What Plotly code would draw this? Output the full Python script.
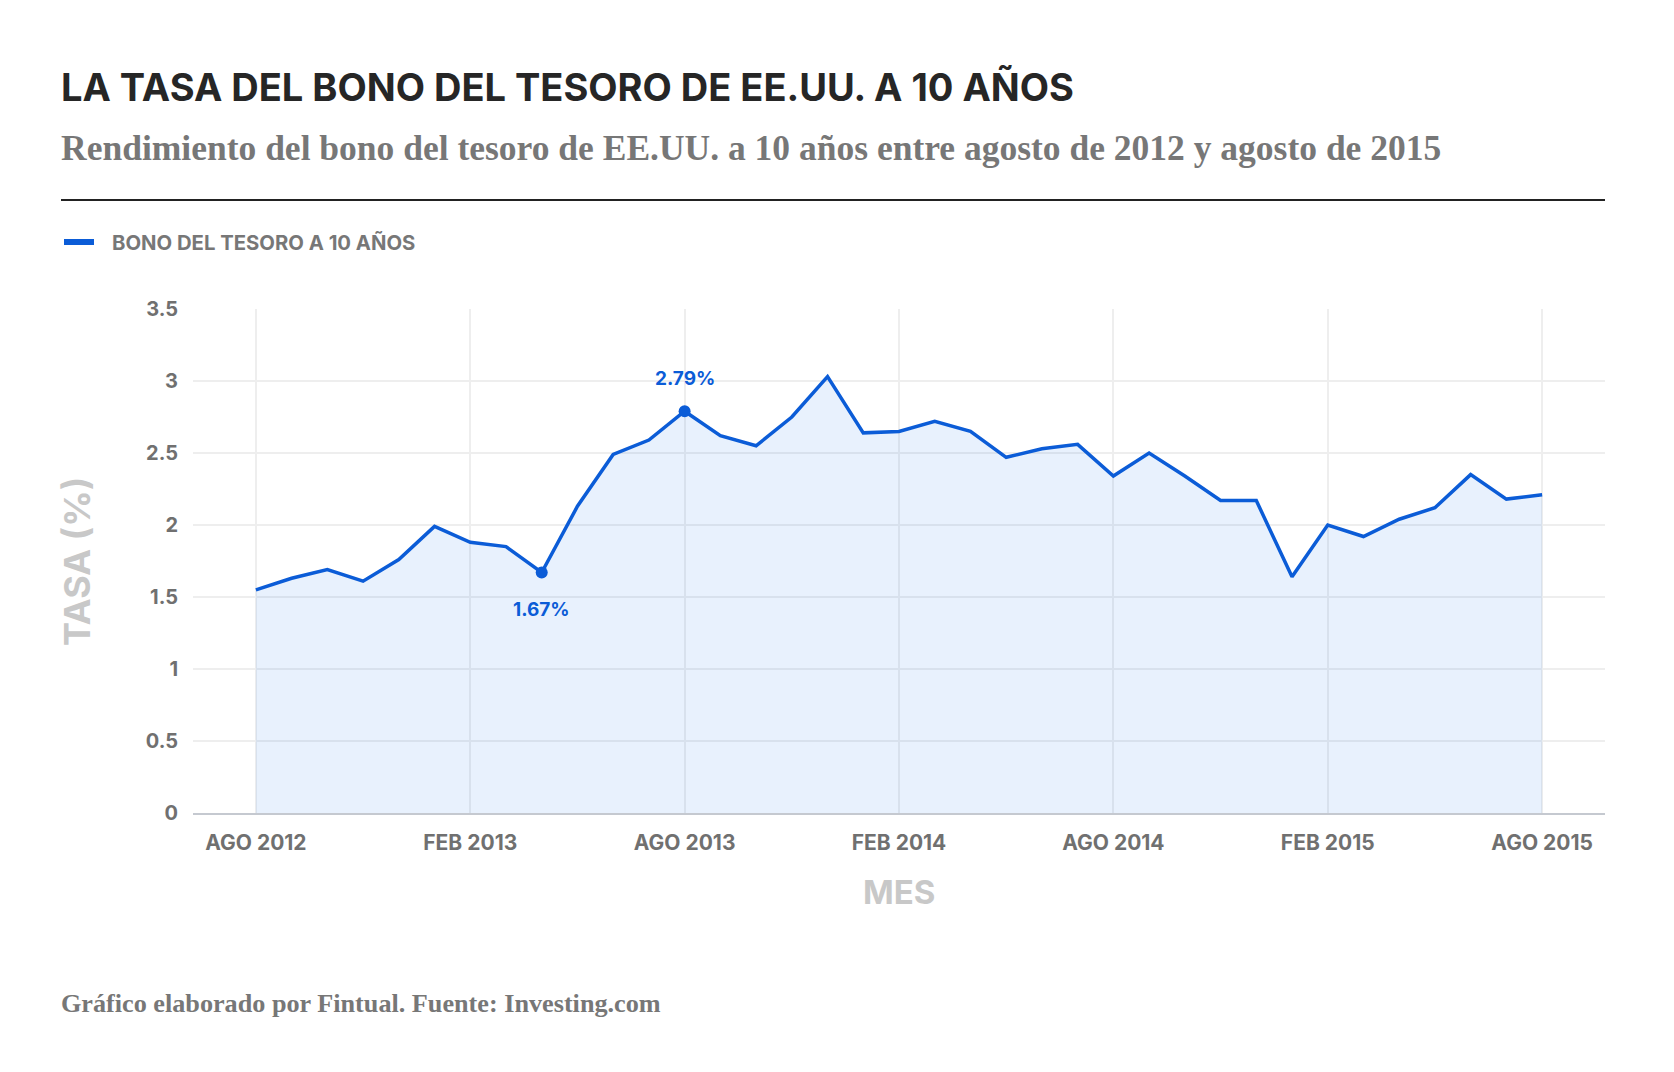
import plotly.graph_objects as go

# Datos: rendimiento mensual del bono del tesoro de EE.UU. a 10 años (%)
meses = ['ago 2012', 'sep 2012', 'oct 2012', 'nov 2012', 'dic 2012', 'ene 2013',
         'feb 2013', 'mar 2013', 'abr 2013', 'may 2013', 'jun 2013', 'jul 2013',
         'ago 2013', 'sep 2013', 'oct 2013', 'nov 2013', 'dic 2013', 'ene 2014',
         'feb 2014', 'mar 2014', 'abr 2014', 'may 2014', 'jun 2014', 'jul 2014',
         'ago 2014', 'sep 2014', 'oct 2014', 'nov 2014', 'dic 2014', 'ene 2015',
         'feb 2015', 'mar 2015', 'abr 2015', 'may 2015', 'jun 2015', 'jul 2015',
         'ago 2015']
tasa = [1.55, 1.63, 1.69, 1.61, 1.76, 1.99, 1.88, 1.85, 1.67, 2.13, 2.49, 2.59,
        2.79, 2.62, 2.55, 2.75, 3.03, 2.64, 2.65, 2.72, 2.65, 2.47, 2.53, 2.56,
        2.34, 2.50, 2.34, 2.17, 2.17, 1.64, 2.00, 1.92, 2.04, 2.12, 2.35, 2.18,
        2.21]

tick_meses = ['ago 2012', 'feb 2013', 'ago 2013', 'feb 2014', 'ago 2014', 'feb 2015', 'ago 2015']
tick_textos = ['AGO 2012', 'FEB 2013', 'AGO 2013', 'FEB 2014', 'AGO 2014', 'FEB 2015', 'AGO 2015']

# puntos destacados y desplazamiento vertical de su etiqueta
destacados = ['ago 2013', 'abr 2013']
desplaz = [33, -37]

AZUL = '#0b5cd7'
SANS = 'Inter, Roboto, sans-serif'
SERIF = 'Liberation Serif, DejaVu Serif, serif'

# el html deja 8px de margen en el body; se resta de todo
OFF = 8
W, H = 1674 - 2 * OFF, 1072 - 2 * OFF
L, R, T, B = 193 - OFF, 1605 - OFF, 309 - OFF, 813 - OFF


def px(x):
    # x en pixeles de la ventana -> coordenada paper
    return (x - OFF - L) / (R - L)


def py(y):
    return (B - (y - OFF)) / (B - T)


fig = go.Figure()

fig.add_trace(go.Scatter(
    x=meses, y=tasa, mode='lines',
    line=dict(color=AZUL, width=3.5),
    fill='tozeroy', fillcolor='rgba(25,115,235,0.1)',
    name='Bono del tesoro a 10 años', showlegend=False,
))

idx = [meses.index(m) for m in destacados]
fig.add_trace(go.Scatter(
    x=destacados, y=[tasa[i] for i in idx], mode='markers',
    marker=dict(color=AZUL, size=12), showlegend=False,
))

for m, i, d in zip(destacados, idx, desplaz):
    fig.add_annotation(x=m, y=tasa[i], text=f'{tasa[i]:.2f}%', showarrow=False,
                       yshift=d, font=dict(family=SANS, size=19, color=AZUL, weight=700))

# título, subtítulo, leyenda y nota
fig.add_annotation(xref='paper', yref='paper', x=px(59), y=py(87), xanchor='left', yanchor='middle',
                   text='LA TASA DEL BONO DEL TESORO DE EE.UU. A 10 AÑOS', showarrow=False,
                   font=dict(family=SANS, size=38, color='#262626', weight=700))
fig.add_annotation(xref='paper', yref='paper', x=px(59), y=py(148), xanchor='left', yanchor='middle',
                   text='Rendimiento del bono del tesoro de EE.UU. a 10 años entre agosto de 2012 y agosto de 2015',
                   showarrow=False, font=dict(family=SERIF, size=35.5, color='#777777', weight=700))
fig.add_shape(type='line', xref='paper', yref='paper', x0=px(61), x1=px(1605), y0=py(200), y1=py(200),
              line=dict(color='#222222', width=2))
fig.add_shape(type='line', xref='paper', yref='paper', x0=px(64), x1=px(94), y0=py(242), y1=py(242),
              line=dict(color=AZUL, width=6))
fig.add_annotation(xref='paper', yref='paper', x=px(110), y=py(242), xanchor='left', yanchor='middle',
                   text='BONO DEL TESORO A 10 AÑOS', showarrow=False,
                   font=dict(family=SANS, size=20.3, color='#777777', weight=700))
fig.add_annotation(xref='paper', yref='paper', x=px(59), y=py(1003), xanchor='left', yanchor='middle',
                   text='Gráfico elaborado por Fintual. Fuente: Investing.com', showarrow=False,
                   font=dict(family=SERIF, size=26.2, color='#777777', weight=700))

# títulos de ejes
fig.add_annotation(xref='paper', yref='paper', x=px(77), y=py(561), textangle=-90,
                   xanchor='center', yanchor='middle', text='TASA (%)', showarrow=False,
                   font=dict(family=SANS, size=36, color='#c8c8c8', weight=700))
fig.add_annotation(xref='paper', yref='paper', x=0.5, y=py(892), xanchor='center', yanchor='middle',
                   text='MES', showarrow=False,
                   font=dict(family=SANS, size=33, color='#c8c8c8', weight=700))

fig.update_xaxes(
    type='category', range=[-1.76, 37.76],
    tickvals=tick_meses, ticktext=tick_textos,
    showgrid=True, gridcolor='#eeeeee', gridwidth=2,
    showline=True, linecolor='#c5c9d0', linewidth=2,
    ticks='', ticklabelstandoff=10,
    tickfont=dict(family=SANS, size=21, color='#707070', weight=700),
    zeroline=False,
)
fig.update_yaxes(
    range=[0, 3.5], dtick=0.5, tick0=0,
    showgrid=True, gridcolor='#eeeeee', gridwidth=2,
    showline=False, zeroline=False,
    ticks='', ticklabelstandoff=14,
    tickfont=dict(family=SANS, size=20, color='#707070', weight=700),
)

fig.update_layout(
    width=W, height=H,
    margin=dict(l=L, r=W - R, t=T, b=H - B),
    paper_bgcolor='white', plot_bgcolor='white',
    showlegend=False,
)

fig.write_html('out.html')
